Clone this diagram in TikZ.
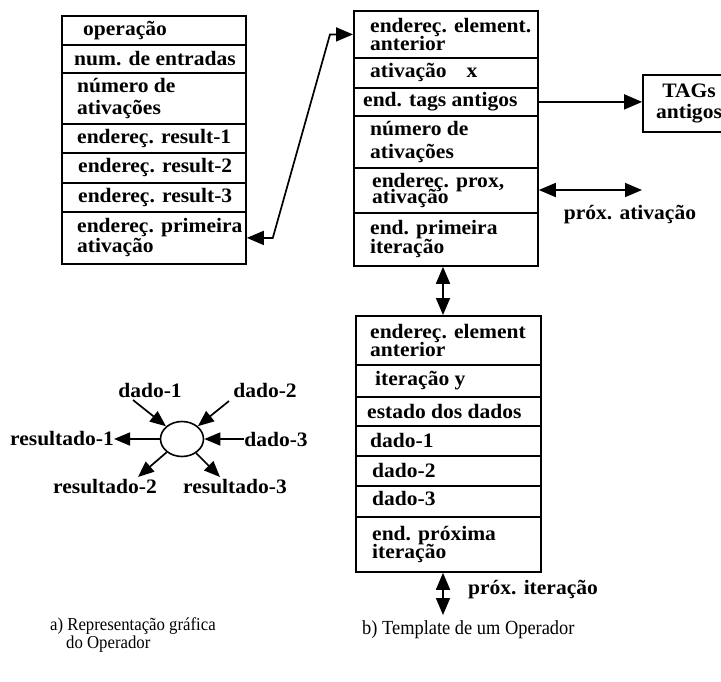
\documentclass[tikz,border=0pt]{standalone}
\usepackage{fontspec}
\setmainfont{Liberation Serif}[FakeStretch=1.05]
\newfontfamily\capfont{Liberation Serif}[FakeStretch=0.92]
\usetikzlibrary{arrows.meta,shapes.geometric}
\begin{document}
\begin{tikzpicture}[x=1pt,y=-1pt,
  cellL/.style={draw, line width=1.8pt, anchor=north west, inner sep=0pt, minimum width=184pt},
  cellB/.style={draw, line width=1.8pt, anchor=north west, inner sep=0pt, minimum width=185pt},
  txt/.style={anchor=west, inner sep=0pt, align=left, font=\bfseries\fontsize{20.5}{19}\selectfont},
  lab/.style={inner sep=0pt, font=\bfseries\fontsize{20.5}{19}\selectfont},
  tip/.style={-{Triangle[length=16pt,width=13pt]}, line width=1.7pt},
  dtip/.style={{Triangle[length=17pt,width=14pt]}-{Triangle[length=17pt,width=14pt]}, line width=1.7pt},
  captxt/.style={inner sep=0pt, align=left}]
\useasboundingbox (0,0) rectangle (721,681);
\clip (0,0) rectangle (721,681);

% left table
\node[cellL, minimum height=29pt] (L1) at (61,15) {};
\node[cellL, minimum height=28pt] (L2) at (61,44) {};
\node[cellL, minimum height=51pt] (L3) at (61,72) {};
\node[cellL, minimum height=29pt] (L4) at (61,123) {};
\node[cellL, minimum height=30pt] (L5) at (61,152) {};
\node[cellL, minimum height=29pt] (L6) at (61,182) {};
\node[cellL, minimum height=52pt] (L7) at (61,211) {};
\node[txt] (L1t) at ([xshift=22pt]L1.west) {operação};
\node[txt] (L2t) at ([xshift=13pt]L2.west) {num. de entradas};
\node[txt] (L3t) at ([xshift=16pt]L3.west) {número de\\[3pt]ativações};
\node[txt] (L4t) at ([xshift=16pt]L4.west) {endereç. result-1};
\node[txt] (L5t) at ([xshift=17pt]L5.west) {endereç. result-2};
\node[txt] (L6t) at ([xshift=17pt]L6.west) {endereç. result-3};
\node[txt] (L7t) at ([xshift=16pt]L7.west) {endereç. primeira\\[1pt]ativação};

% middle table
\node[cellL, minimum height=47pt] (M1) at (353,10) {};
\node[cellL, minimum height=30pt] (M2) at (353,57) {};
\node[cellL, minimum height=28pt] (M3) at (353,87) {};
\node[cellL, minimum height=52pt] (M4) at (353,115) {};
\node[cellL, minimum height=45pt] (M5) at (353,167) {};
\node[cellL, minimum height=53pt] (M6) at (353,212) {};
\node[txt] (M1t) at ([xshift=17pt]M1.west) {endereç. element.\\[-1pt]anterior};
\node[txt] (M2t) at ([xshift=17pt]M2.west) {ativação\hspace{20pt}x};
\node[txt] (M3t) at ([xshift=10pt]M3.west) {end. tags antigos};
\node[txt] (M4t) at ([xshift=17pt]M4.west) {número de\\[4pt]ativações};
\node[txt] (M5t) at ([xshift=19pt]M5.west) {endereç. prox,\\[-3pt]ativação};
\node[txt] (M6t) at ([xshift=17pt]M6.west) {end. primeira\\[0pt]iteração};

% bottom table
\node[cellB, minimum height=49pt] (B1) at (355,315) {};
\node[cellB, minimum height=32pt] (B2) at (355,364) {};
\node[cellB, minimum height=29pt] (B3) at (355,396) {};
\node[cellB, minimum height=30pt] (B4) at (355,425) {};
\node[cellB, minimum height=30pt] (B5) at (355,455) {};
\node[cellB, minimum height=31pt] (B6) at (355,485) {};
\node[cellB, minimum height=55pt] (B7) at (355,516) {};
\node[txt] (B1t) at ([xshift=15pt]B1.west) {endereç. element\\[-1pt]anterior};
\node[txt] (B2t) at ([xshift=20pt]B2.west) {iteração y};
\node[txt] (B3t) at ([xshift=12pt]B3.west) {estado dos dados};
\node[txt] (B4t) at ([xshift=15pt]B4.west) {dado-1};
\node[txt] (B5t) at ([xshift=17pt]B5.west) {dado-2};
\node[txt] (B6t) at ([xshift=17pt,yshift=3pt]B6.west) {dado-3};
\node[txt] (B7t) at ([xshift=17pt]B7.west) {end. próxima\\[-1pt]iteração};

% TAGs box
\node[draw, line width=1.8pt, minimum width=92pt, minimum height=57pt, inner sep=0pt,
      align=center, font=\bfseries\fontsize{20.5}{21}\selectfont] (T) at (689,103.5) {TAGs\\antigos};

% connectors of the template
\draw[dtip] (L7.east) -- ++(26,0) -- ([xshift=-23pt]M1.west) -- (M1.west);
\draw[-{Triangle[length=18pt,width=15pt]}, line width=1.7pt] (M3.east) -- (M3.east -| T.west);
\coordinate (PA) at (642,190);
\draw[dtip] (M5.east |- PA) -- (PA);
\node[lab] (PAt) at (630,215) {próx. ativação};
\coordinate (X) at (443,0);
\draw[dtip] (M6.south -| X) -- (B1.north -| X);
\coordinate (PI) at (443,615);
\draw[dtip] (B7.south -| X) -- (PI);
\node[lab] (PIt) at (533,590) {próx. iteração};

% operator symbol
\node[draw, ellipse, line width=1.6pt, minimum width=43pt, minimum height=35pt, inner sep=0pt] (O) at (182,439) {};
\node[lab] (D1) at (150,390) {dado-1};
\node[lab] (D2) at (265,390) {dado-2};
\node[lab] (D3) at (276,439) {dado-3};
\node[lab] (R1) at (62,439) {resultado-1};
\node[lab] (R2) at (105,487) {resultado-2};
\node[lab] (R3) at (235,487) {resultado-3};
\coordinate (d1s) at (133,400);
\coordinate (d2s) at (229,401);
\coordinate (r2e) at (138,477);
\coordinate (r3e) at (220,477);
\draw[tip] (d1s) -- (O);
\draw[tip] (d2s) -- (O);
\draw[tip] (D3) -- (O);
\draw[tip] (O) -- (R1);
\draw[tip] (O) -- (r2e);
\draw[tip] (O) -- (r3e);

% captions
\node[captxt, anchor=west, font=\capfont\fontsize{18.2}{15}\selectfont] (CA) at (50,635)
  {a) Representação gráfica\\\hspace{16pt}do Operador};
\node[captxt, anchor=west, font=\capfont\fontsize{20}{17}\selectfont] (CB) at (362,630)
  {b) Template de um Operador};
\end{tikzpicture}
\end{document}
